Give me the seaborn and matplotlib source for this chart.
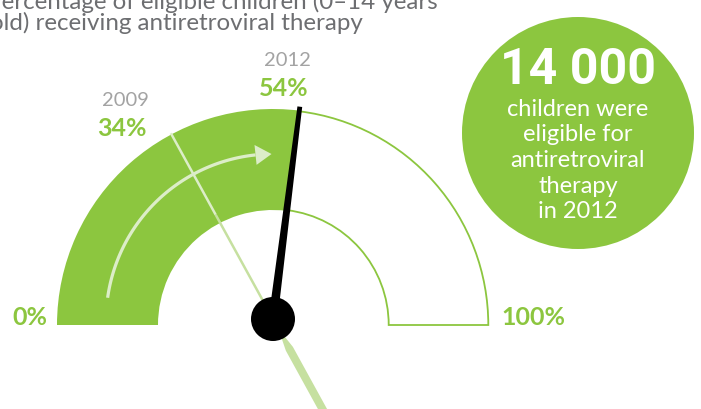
import numpy as np
import matplotlib
matplotlib.use("Agg")
import matplotlib.pyplot as plt
import seaborn as sns
from matplotlib.patches import Wedge, Circle, Polygon

# data
years = ["2009", "2012"]
coverage = [34, 54]          # % of eligible children on ART
scale_labels = ["0%", "100%"]
eligible_children = 14000
title_lines = ["Percentage of eligible children (0\u201314 years",
               "old) receiving antiretroviral therapy"]

GREEN = "#8cc63f"
LIGHT = "#c6e0a0"
PALE = "#dcedc8"
GREY_TXT = "#6d6e71"
GREY_LBL = "#a3a3a3"

sns.set_theme(style="white")
plt.rcParams["font.family"] = ["Lato", "DejaVu Sans"]

W, H = 701, 410
fig = plt.figure(figsize=(W / 100, H / 100), dpi=100)
ax = fig.add_axes([0, 0, 1, 1])
ax.set_xlim(0, W)
ax.set_ylim(0, H)
ax.set_aspect("equal")
ax.axis("off")

cx, cy = 273, H - 326      # gauge centre
px, py = 273, H - 320      # needle pivot
R, r = 216, 115


def ang(pct):
    return 180 - pct * 1.8


def pol(x0, y0, rad, deg):
    t = np.radians(deg)
    return x0 + rad * np.cos(t), y0 + rad * np.sin(t)


a_old, a_now = ang(coverage[0]), ang(coverage[1])

# gauge band: filled part and outlined empty part
ax.add_patch(Wedge((cx, cy), R, a_now, 180, width=R - r, facecolor=GREEN,
                   edgecolor="none", zorder=2))
ax.add_patch(Wedge((cx, cy), R - 0.7, 0, a_now, width=R - r - 1.4,
                   facecolor="white", edgecolor=GREEN, lw=1.3, zorder=1))

# 2009 needle (pale), thin head + wide tail
x1, y1 = pol(px, py, R - 4, a_old)
x2, y2 = pol(px, py, r + 4, a_old)
ax.plot([x1, x2], [y1, y2], color=PALE, lw=1.8, zorder=3, solid_capstyle="butt")
ax.plot([x2, px], [y2, py], color=LIGHT, lw=1.8, zorder=3, solid_capstyle="butt")
tail = a_old + 180
t = np.radians(tail)
nx, ny = -np.sin(t), np.cos(t)
pts = []
for rad, hw in [(18, 1.2), (34, 4.0), (200, 4.0)]:
    bx, by = pol(px, py, rad, tail)
    pts.append((bx + nx * hw, by + ny * hw))
for rad, hw in [(200, 4.0), (34, 4.0), (18, 1.2)]:
    bx, by = pol(px, py, rad, tail)
    pts.append((bx - nx * hw, by - ny * hw))
ax.add_patch(Polygon(pts, closed=True, facecolor=LIGHT, edgecolor="none", zorder=3))

# progress arrow
th = np.linspace(172, 96, 80)
ax_, ay_ = pol(273, H - 322, 167, th)
ax.plot(ax_, ay_, color=PALE, lw=2.3, zorder=4, solid_capstyle="butt")
tipx, tipy = pol(273, H - 322, 167, 90.5)
bx, by = pol(273, H - 322, 167, 96)
t = np.radians(96)
ax.add_patch(Polygon([(tipx, tipy),
                      (bx + 10 * np.cos(t), by + 10 * np.sin(t)),
                      (bx - 10 * np.cos(t), by - 10 * np.sin(t))],
                     closed=True, facecolor=PALE, edgecolor="none", zorder=4))

# 2012 needle (black)
t = np.radians(a_now)
nx, ny = -np.sin(t), np.cos(t)
hx, hy = pol(px, py, R - 2, a_now)
ax.add_patch(Polygon([(px + nx * 4.5, py + ny * 4.5), (hx + nx * 2.4, hy + ny * 2.4),
                      (hx - nx * 2.4, hy - ny * 2.4), (px - nx * 4.5, py - ny * 4.5)],
                     closed=True, facecolor="black", edgecolor="none", zorder=5))
ax.add_patch(Circle((px, py), 22, facecolor="black", edgecolor="none", zorder=6))

# year / value labels
ax.text(125, H - 100, years[0], ha="center", va="center", fontsize=14.5,
        color=GREY_LBL)
ax.text(122, H - 128, f"{coverage[0]}%", ha="center", va="center", fontsize=18,
        color=GREEN, fontweight="bold")
ax.text(287, H - 60, years[1], ha="center", va="center", fontsize=14.5,
        color=GREY_LBL)
ax.text(284, H - 88, f"{coverage[1]}%", ha="center", va="center", fontsize=18,
        color=GREEN, fontweight="bold")
ax.text(30, H - 318, scale_labels[0], ha="center", va="center", fontsize=18,
        color=GREEN, fontweight="bold")
ax.text(533, H - 318, scale_labels[1], ha="center", va="center", fontsize=18,
        color=GREEN, fontweight="bold")

# title, cut off on the left as in the source
ax.text(-13, H - 9, title_lines[0], ha="left", va="baseline", fontsize=17.4,
        color=GREY_TXT)
ax.text(-10, H - 30, title_lines[1], ha="left", va="baseline", fontsize=17.4,
        color=GREY_TXT)

# eligible-children bubble
ax.add_patch(Circle((578, H - 134), 116, facecolor=GREEN, edgecolor="none", zorder=2))
ax.text(578, H - 71, f"{eligible_children:,}".replace(",", " "), ha="center",
        va="center", fontsize=36, color="white", fontweight="bold",
        family=["Roboto", "DejaVu Sans"], zorder=3)
for i, line in enumerate(["children were", "eligible for", "antiretroviral",
                          "therapy", "in 2012"]):
    ax.text(578, H - 109 - 25.7 * i, line, ha="center", va="center",
            fontsize=17, color="white", zorder=3)

fig.savefig("out.png", dpi=100)
